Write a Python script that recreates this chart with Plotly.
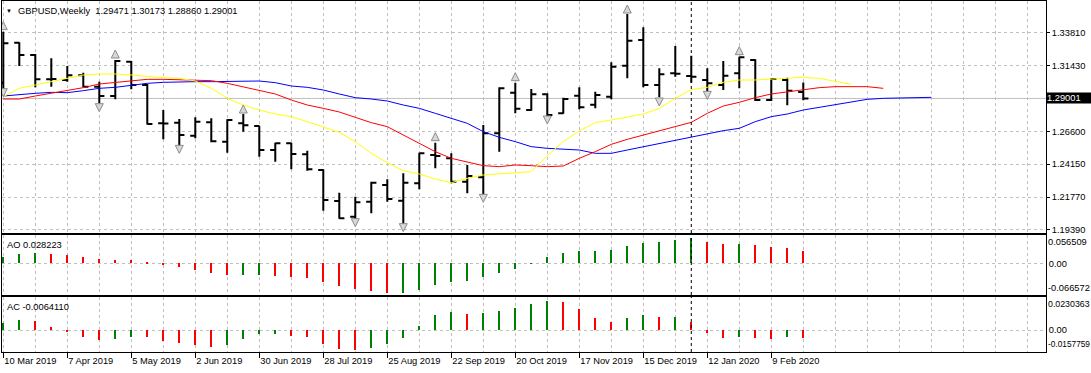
import plotly.graph_objects as go

# ---------------- data ----------------
bar_index = list(range(51))  # weekly bars, 10 Mar 2019 ... 23 Feb 2020
label_bars = [0, 4, 8, 12, 16, 20, 24, 28, 32, 36, 40, 44, 48]
date_labels = ["10 Mar 2019", "7 Apr 2019", "5 May 2019", "2 Jun 2019", "30 Jun 2019",
               "28 Jul 2019", "25 Aug 2019", "22 Sep 2019", "20 Oct 2019", "17 Nov 2019",
               "15 Dec 2019", "12 Jan 2020", "9 Feb 2020"]

open_ = [1.30150, 1.33079, 1.32177, 1.30398, 1.30349, 1.30690, 1.29862, 1.29179, 1.31690, 1.29984,
         1.27181, 1.27230, 1.26279, 1.27254, 1.25841, 1.27181, 1.26986, 1.25231, 1.25719, 1.24915,
         1.23769, 1.21503, 1.20357, 1.21454, 1.22673, 1.21527, 1.22794, 1.24866, 1.24622, 1.22916,
         1.23233, 1.26450, 1.29423, 1.28156, 1.29301, 1.27912, 1.29204, 1.28546, 1.29131, 1.31397,
         1.33274, 1.29984, 1.30837, 1.30642, 1.30349, 1.29984, 1.30837, 1.31811, 1.28887, 1.30349,
         1.29471]
high = [1.33883, 1.33100, 1.32250, 1.31933, 1.31373, 1.30885, 1.30227, 1.31811, 1.31738, 1.30057,
        1.28156, 1.27498, 1.27620, 1.27547, 1.27474, 1.27863, 1.27010, 1.25768, 1.25768, 1.25183,
        1.23818, 1.22112, 1.21820, 1.22916, 1.23087, 1.23526, 1.25037, 1.25768, 1.24988, 1.24135,
        1.27059, 1.29813, 1.30154, 1.29691, 1.29374, 1.29058, 1.29813, 1.29496, 1.31641, 1.35175,
        1.34200, 1.31202, 1.32835, 1.32128, 1.31202, 1.31738, 1.32055, 1.31860, 1.30471, 1.30520,
        1.30173]
low = [1.29569, 1.31373, 1.29813, 1.29862, 1.30227, 1.29813, 1.28643, 1.28936, 1.29667, 1.27100,
       1.26011, 1.25548, 1.26084, 1.25792, 1.25037, 1.26572, 1.24744, 1.24379, 1.23818, 1.23721,
       1.20796, 1.20200, 1.20114, 1.20601, 1.21454, 1.19505, 1.22356, 1.23891, 1.22794, 1.22063,
       1.21868, 1.25110, 1.27912, 1.28107, 1.27717, 1.27880, 1.28205, 1.28278, 1.28936, 1.30471,
       1.29813, 1.29082, 1.30593, 1.30154, 1.29496, 1.29618, 1.29740, 1.28814, 1.28814, 1.28497,
       1.28860]
close = [1.33030, 1.32177, 1.30398, 1.30420, 1.30690, 1.29862, 1.29179, 1.31738, 1.29984, 1.27132,
         1.27160, 1.26328, 1.27303, 1.25865, 1.27425, 1.27035, 1.25231, 1.25719, 1.24939, 1.23818,
         1.21576, 1.20236, 1.21405, 1.22843, 1.21649, 1.22843, 1.24988, 1.24793, 1.22916, 1.23331,
         1.26450, 1.29740, 1.28253, 1.29301, 1.27790, 1.28960, 1.28351, 1.29253, 1.31324, 1.33225,
         1.29984, 1.30763, 1.30810, 1.30593, 1.30105, 1.30666, 1.32006, 1.28887, 1.30422, 1.29569,
         1.29001]

# Alligator lines (shifted forward 8 / 5 / 3 bars)
jaw = [1.29179, 1.29301, 1.29374, 1.29447, 1.29423, 1.29569, 1.29740, 1.29813, 1.29984, 1.30105,
       1.30179, 1.30227, 1.30227, 1.30227, 1.30227, 1.30227, 1.30276, 1.30154, 1.29911, 1.29813,
       1.29618, 1.29326, 1.29058, 1.28960, 1.28814, 1.28521, 1.28278, 1.27912, 1.27547, 1.27181,
       1.26572, 1.26158, 1.25841, 1.25475, 1.25353, 1.25305, 1.25231, 1.24988, 1.24988, 1.25231,
       1.25475, 1.25670, 1.25914, 1.26182, 1.26450, 1.26645, 1.26816, 1.27303, 1.27668, 1.27863,
       1.28156, 1.28351, 1.28521, 1.28765, 1.28936, 1.29009, 1.29033, 1.29082, 1.29082]
teeth = [1.28960, 1.28960, 1.29179, 1.29374, 1.29569, 1.29789, 1.30057, 1.30154, 1.30276, 1.30398,
         1.30398, 1.30349, 1.30300, 1.30300, 1.30105, 1.29862, 1.29618, 1.29326, 1.28887, 1.28521,
         1.28278, 1.28010, 1.27620, 1.27230, 1.26937, 1.26328, 1.25719, 1.25110, 1.24622, 1.24379,
         1.24086, 1.24013, 1.24135, 1.24086, 1.24013, 1.24062, 1.24622, 1.25110, 1.25646, 1.26011,
         1.26328, 1.26645, 1.26937, 1.27254, 1.27912, 1.28448, 1.28716, 1.29058, 1.29326, 1.29496,
         1.29618, 1.29789, 1.29862, 1.29862, 1.29862, 1.29740]
lips = [1.29131, 1.29740, 1.29984, 1.30227, 1.30520, 1.30715, 1.30788, 1.30788, 1.30715, 1.30593,
        1.30520, 1.30471, 1.30276, 1.29740, 1.29009, 1.28521, 1.28156, 1.27863, 1.27668, 1.27303,
        1.26937, 1.26523, 1.25841, 1.24988, 1.24305, 1.23721, 1.23477, 1.23111, 1.22843, 1.23160,
        1.23404, 1.23477, 1.23526, 1.23647, 1.24817, 1.25841, 1.26621, 1.27230, 1.27425, 1.27668,
        1.27863, 1.28278, 1.29009, 1.29643, 1.29813, 1.30179, 1.30349, 1.30349, 1.30422, 1.30471,
        1.30544, 1.30471, 1.30276, 1.30032]

# Fractal arrows
fractal_up_bar = [0, 7, 15, 27, 32, 39, 46]
fractal_up_val = [1.34614, 1.32542, 1.28521, 1.26499, 1.30885, 1.35832, 1.32786]
fractal_dn_bar = [0, 6, 11, 22, 25, 30, 34, 41, 44]
fractal_dn_val = [1.29131, 1.28034, 1.24988, 1.19626, 1.19261, 1.21405, 1.27132, 1.28448, 1.28936]

# Awesome Oscillator / Accelerator Oscillator
ao = [0.0142, 0.0210, 0.0233, 0.0209, 0.0188, 0.0142, 0.0097, 0.0075, 0.0068, 0.0029,
      -0.0038, -0.0084, -0.0151, -0.0219, -0.0264, -0.0262, -0.0258, -0.0287, -0.0310, -0.0332,
      -0.0423, -0.0513, -0.0581, -0.0626, -0.066572, -0.0660, -0.0603, -0.0490, -0.0423, -0.0400,
      -0.0310, -0.0219, -0.0129, 0.0007, 0.0142, 0.0233, 0.0278, 0.0281, 0.0301, 0.0391,
      0.0459, 0.0481, 0.0527, 0.056509, 0.0481, 0.0436, 0.0440, 0.0414, 0.0368, 0.0346,
      0.028223]
ac = [0.0055, 0.0079, 0.0071, 0.0024, -0.0013, -0.0055, -0.0077, -0.0071, -0.0055, -0.0056,
      -0.0087, -0.0103, -0.0119, -0.0135, -0.0119, -0.0071, -0.0032, -0.0029, -0.0048, -0.0055,
      -0.0111, -0.0150, -0.0157759, -0.0143, -0.0111, -0.0063, 0.0032, 0.0119, 0.0143, 0.0127,
      0.0135, 0.0150, 0.0174, 0.0206, 0.0230363, 0.0222, 0.0166, 0.0095, 0.0063, 0.0095,
      0.0119, 0.0103, 0.0106, 0.0063, -0.0024, -0.0063, -0.0055, -0.0063, -0.0068, -0.0058,
      -0.006411]

price_ticks = [1.19390, 1.21793, 1.24197, 1.26600, 1.29003, 1.31407, 1.33810]
price_tick_text = ["1.19390", "1.21770", "1.24150", "1.26600", "", "1.31430", "1.33810"]
cursor_bar = 43
symbol_name = "GBPUSD,Weekly"

# ---------------- figure ----------------
W, H = 1091, 373
FONT = "Liberation Sans, Arial, sans-serif"
FS = 9.3
GRID = "#C0C0C0"
GREEN, RED = "#008000", "#FF0000"


def px_y(p):  # pixel row -> paper fraction
    return (H - p) / H


def px_x(p):
    return p / W


def osc_colors(vals):
    out, prev = [], None
    for v in vals:
        out.append(GREEN if prev is None or v > prev else RED)
        prev = v
    return out


fig = go.Figure()

for xs, ys, col in [(list(range(len(jaw))), jaw, "#0000FF"),
                    (list(range(len(teeth))), teeth, "#FF0000"),
                    (list(range(len(lips))), lips, "#FFFF00")]:
    fig.add_trace(go.Scatter(x=xs, y=ys, mode="lines", line=dict(color=col, width=1),
                             hoverinfo="skip", xaxis="x", yaxis="y"))

fig.add_trace(go.Ohlc(x=bar_index, open=open_, high=high, low=low, close=close,
                      increasing=dict(line=dict(color="black", width=2)),
                      decreasing=dict(line=dict(color="black", width=2)),
                      tickwidth=0.32, hoverinfo="skip", xaxis="x", yaxis="y"))

arrow_marker = dict(size=8, color="#D8D8D8", line=dict(color="#8C8C8C", width=1))
fig.add_trace(go.Scatter(x=fractal_up_bar, y=fractal_up_val, mode="markers",
                         marker=dict(arrow_marker, symbol="arrow-up"),
                         hoverinfo="skip", xaxis="x", yaxis="y"))
fig.add_trace(go.Scatter(x=fractal_dn_bar, y=fractal_dn_val, mode="markers",
                         marker=dict(arrow_marker, symbol="arrow-down"),
                         hoverinfo="skip", xaxis="x", yaxis="y"))

fig.add_trace(go.Bar(x=bar_index, y=ao, width=0.14, marker=dict(color=osc_colors(ao), line=dict(width=0)),
                     hoverinfo="skip", xaxis="x2", yaxis="y2"))
fig.add_trace(go.Bar(x=bar_index, y=ac, width=0.14, marker=dict(color=osc_colors(ac), line=dict(width=0)),
                     hoverinfo="skip", xaxis="x3", yaxis="y3"))

x_dom = [px_x(2), px_x(1046)]
x_rng = [-0.081, 65.17]
even_bars = list(range(0, 66, 2))

common_x = dict(domain=x_dom, range=x_rng, showline=True, mirror=True, linecolor="black",
                linewidth=1, zeroline=False, showgrid=True, gridcolor=GRID, griddash="3px,3px",
                gridwidth=1, tickmode="array", automargin=False, fixedrange=True)
common_y = dict(side="right", showline=True, mirror=True, linecolor="black", linewidth=1,
                zeroline=False, showgrid=True, gridcolor=GRID, griddash="3px,3px", gridwidth=1,
                tickmode="array", automargin=False, fixedrange=True,
                tickfont=dict(family=FONT, size=FS, color="black"))

fig.update_layout(
    width=W, height=H, margin=dict(l=0, r=0, t=0, b=0),
    paper_bgcolor="white", plot_bgcolor="white", showlegend=False, hovermode=False,
    bargap=0,
    xaxis=dict(common_x, anchor="y", tickvals=even_bars, ticks="", showticklabels=False,
               rangeslider=dict(visible=False)),
    xaxis2=dict(common_x, anchor="y2", tickvals=even_bars, ticks="", showticklabels=False),
    xaxis3=dict(common_x, anchor="y3", tickvals=label_bars, ticktext=date_labels,
                ticks="outside", ticklen=5, tickcolor="black", ticklabelposition="outside right",
                tickfont=dict(family=FONT, size=FS, color="black"),
                minor=dict(tickvals=even_bars, showgrid=True, gridcolor=GRID,
                           griddash="3px,3px", ticks="")),
    yaxis=dict(common_y, anchor="x", domain=[px_y(233), px_y(1)], range=[1.19163, 1.36125],
               tickvals=price_ticks, ticktext=price_tick_text, ticks="outside", ticklen=3,
               tickcolor="black"),
    yaxis2=dict(common_y, anchor="x2", domain=[px_y(295), px_y(235)], range=[-0.0716, 0.0640],
                tickvals=[0], ticktext=["0.00"], ticks=""),
    yaxis3=dict(common_y, anchor="x3", domain=[px_y(352), px_y(297)], range=[-0.01742, 0.02614],
                tickvals=[0], ticktext=["0.00"], ticks=""),
)

# current price line and cursor line
fig.add_shape(type="line", xref="x domain", x0=0, x1=1, yref="y", y0=close[-1], y1=close[-1],
              line=dict(color=GRID, width=1), layer="below")
for xa, ya in [("x", "y"), ("x2", "y2"), ("x3", "y3")]:
    fig.add_shape(type="line", xref=xa, x0=cursor_bar, x1=cursor_bar, yref=f"{ya} domain", y0=0, y1=1,
                  line=dict(color="black", width=1, dash="3px,3px"), layer="above")

ann_font = dict(family=FONT, size=FS, color="black")
title_txt = "%s\u00a0\u00a0%.5f %.5f %.5f %.5f" % (symbol_name, open_[-1], high[-1], low[-1], close[-1])
fig.add_annotation(xref="paper", yref="paper", x=px_x(4), y=px_y(11), xanchor="left", yanchor="middle",
                   text="\u25bc", showarrow=False, font=dict(family=FONT, size=6, color="black"))
fig.add_annotation(xref="paper", yref="paper", x=px_x(16), y=px_y(11), xanchor="left", yanchor="middle",
                   text=title_txt, showarrow=False, font=ann_font)
fig.add_annotation(xref="paper", yref="paper", x=px_x(5), y=px_y(244.7), xanchor="left", yanchor="middle",
                   text="AO %.6f" % ao[-1], showarrow=False, font=ann_font)
fig.add_annotation(xref="paper", yref="paper", x=px_x(5), y=px_y(306.7), xanchor="left", yanchor="middle",
                   text="AC %.7f" % ac[-1], showarrow=False, font=ann_font)

# right-hand scale limits of the oscillator windows
for txt, ypix, fs in [("%.6f" % max(ao), 242.3, FS), ("%.6f" % min(ao), 287.7, FS),
                      ("%.7f" % max(ac), 304.0, 8.8), ("%.7f" % min(ac), 344.3, 8.3)]:
    fig.add_annotation(xref="paper", yref="paper", x=px_x(1046), y=px_y(ypix), xanchor="left",
                       yanchor="middle", text=txt, showarrow=False,
                       font=dict(family=FONT, size=fs, color="black"))

# current price tag
fig.add_annotation(xref="paper", yref="y", x=px_x(1046), y=close[-1], xanchor="left", yanchor="middle",
                   text="%.5f" % close[-1], showarrow=False, bgcolor="black", borderpad=0,
                   width=46, height=10, align="left",
                   font=dict(family=FONT, size=FS, color="white"))

fig.write_html("out.html", config={"displayModeBar": False},
               post_script="document.body.style.margin='0px';document.body.style.padding='0px';")
